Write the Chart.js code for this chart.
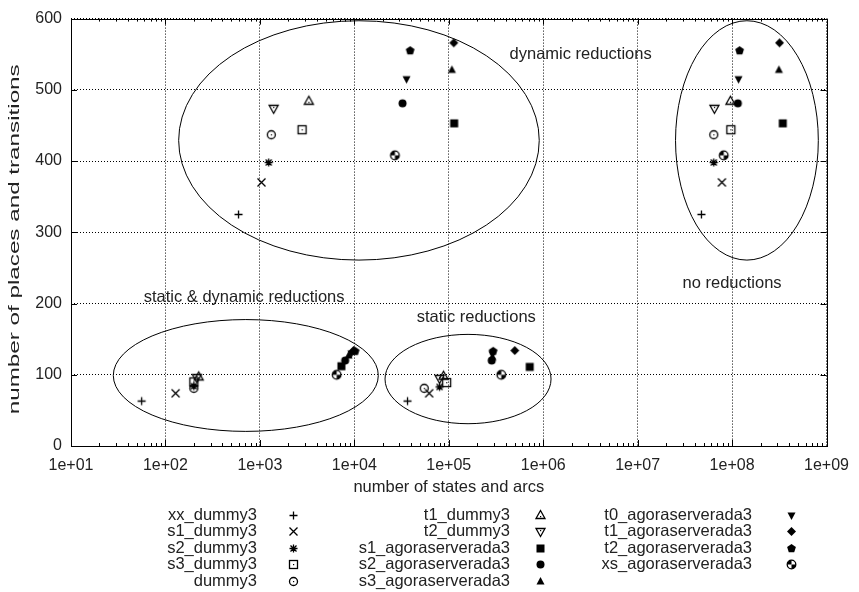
<!DOCTYPE html>
<html>
<head>
<meta charset="utf-8">
<script src="https://cdn.jsdelivr.net/npm/chart.js@4/dist/chart.umd.min.js"></script>
<style>html,body{margin:0;padding:0;background:#fff}canvas{display:block}</style>
</head>
<body>
<canvas id="c" width="859" height="592"></canvas>
<script>
// ---------- data (x = number of states and arcs, y = number of places and transitions)
const seriesNames = ['xx_dummy3','s1_dummy3','s2_dummy3','s3_dummy3','dummy3',
  't1_dummy3','t2_dummy3','s1_agoraserverada3','s2_agoraserverada3','s3_agoraserverada3',
  't0_agoraserverada3','t1_agoraserverada3','t2_agoraserverada3','xs_agoraserverada3'];

const xx_dummy3          = [[594, 325], [4.73e7, 325], [56, 63],    [36600, 63]];
const s1_dummy3          = [[1040, 370], [7.8e7, 370], [128, 74],   [62000, 74]];
const s2_dummy3          = [[1240, 398], [6.4e7, 398], [200, 84],   [80000, 83]];
const s3_dummy3          = [[2800, 444], [9.7e7, 444], [200, 90],   [95000, 89]];
const dummy3             = [[1320, 437], [6.4e7, 437], [200, 81],   [55000, 81]];
const t1_dummy3          = [[3300, 484], [9.6e7, 484], [225, 97],   [88000, 98]];
const t2_dummy3          = [[1400, 474], [6.5e7, 474], [215, 96],   [80000, 95]];
const s1_agoraserverada3 = [[114000, 453], [3.44e8, 453], [7300, 112],  [720000, 111]];
const s2_agoraserverada3 = [[32400, 481],  [1.15e8, 481], [8000, 120],  [285000, 120]];
const s3_agoraserverada3 = [[108000, 528], [3.13e8, 528], [8700, 127],  [290000, 125]];
const t0_agoraserverada3 = [[35700, 515],  [1.17e8, 515], [9300, 130],  [290000, 129]];
const t1_agoraserverada3 = [[113000, 566], [3.18e8, 566], [9800, 134],  [500000, 134]];
const t2_agoraserverada3 = [[39000, 555],  [1.2e8, 555],  [10200, 133], [295000, 133]];
const xs_agoraserverada3 = [[26900, 408],  [8.15e7, 408], [6500, 100],  [360000, 100]];

const seriesData = [xx_dummy3, s1_dummy3, s2_dummy3, s3_dummy3, dummy3, t1_dummy3, t2_dummy3,
  s1_agoraserverada3, s2_agoraserverada3, s3_agoraserverada3, t0_agoraserverada3,
  t1_agoraserverada3, t2_agoraserverada3, xs_agoraserverada3];

const xTickValues = [1e1, 1e2, 1e3, 1e4, 1e5, 1e6, 1e7, 1e8, 1e9];
const xTickLabels = ['1e+01','1e+02','1e+03','1e+04','1e+05','1e+06','1e+07','1e+08','1e+09'];
const yTickValues = [0, 100, 200, 300, 400, 500, 600];
const xTitle = 'number of states and arcs';
const yTitle = 'number of places and transitions';
const regionLabels = ['dynamic reductions', 'no reductions', 'static & dynamic reductions', 'static reductions'];

// ---------- styles
const FONT = "'Liberation Sans', Arial, Helvetica, sans-serif";
const TEXT = '#222';
const symbolKinds = ['plus','cross','star','boxdot','circledot','triup','tridown',
  'box','disc','trifill','tridownfill','diamond','pentagon','xs'];

function makeSymbol(kind) {
  const c = document.createElement('canvas');
  c.width = 15; c.height = 15;
  const g = c.getContext('2d');
  g.strokeStyle = '#000'; g.fillStyle = '#000'; g.lineWidth = 1.3;
  const m = 7.5;
  const poly = pts => { g.beginPath(); pts.forEach(([a, b], i) => i ? g.lineTo(a, b) : g.moveTo(a, b)); g.closePath(); };
  switch (kind) {
    case 'plus':
      g.beginPath(); g.moveTo(3.5, m); g.lineTo(11.5, m); g.moveTo(m, 3.5); g.lineTo(m, 11.5); g.stroke(); break;
    case 'cross':
      g.beginPath(); g.moveTo(3.5, 3.5); g.lineTo(11.5, 11.5); g.moveTo(3.5, 11.5); g.lineTo(11.5, 3.5); g.stroke(); break;
    case 'star':
      g.beginPath(); g.moveTo(3.5, m); g.lineTo(11.5, m); g.moveTo(m, 3.5); g.lineTo(m, 11.5);
      g.moveTo(4.5, 4.5); g.lineTo(10.5, 10.5); g.moveTo(4.5, 10.5); g.lineTo(10.5, 4.5); g.stroke(); break;
    case 'boxdot':
      g.strokeRect(3.5, 3.5, 8, 8); g.fillRect(7, 7, 1.2, 1.2); break;
    case 'circledot':
      g.beginPath(); g.arc(m, m, 4, 0, Math.PI * 2); g.stroke(); g.fillRect(7, 7, 1.2, 1.2); break;
    case 'triup':
      poly([[m, 2.5], [12, 10.5], [3, 10.5]]); g.stroke(); g.fillRect(7, 8, 1.2, 1.2); break;
    case 'tridown':
      poly([[m, 12.5], [12, 4.5], [3, 4.5]]); g.stroke(); g.fillRect(7, 6, 1.2, 1.2); break;
    case 'box':
      g.fillRect(3.5, 3.5, 8, 8); break;
    case 'disc':
      g.beginPath(); g.arc(m, m, 4, 0, Math.PI * 2); g.fill(); break;
    case 'trifill':
      poly([[m, 3], [11.5, 10.5], [3.5, 10.5]]); g.fill(); break;
    case 'tridownfill':
      poly([[m, 12], [11.5, 4.5], [3.5, 4.5]]); g.fill(); break;
    case 'diamond':
      poly([[m, 3], [12, m], [m, 12], [3, m]]); g.fill(); break;
    case 'pentagon': {
      const p = [];
      for (let k = 0; k < 5; k++) { const a = -Math.PI / 2 + k * 2 * Math.PI / 5; p.push([m + 4.6 * Math.cos(a), m + 4.6 * Math.sin(a)]); }
      poly(p); g.fill(); break;
    }
    case 'xs':
      g.beginPath(); g.arc(m, m, 4.3, 0, Math.PI * 2); g.fillStyle = '#fff'; g.fill(); g.fillStyle = '#000';
      g.beginPath(); g.moveTo(m, m); g.arc(m, m, 4.3, Math.PI, Math.PI * 1.5); g.closePath(); g.fill();
      g.beginPath(); g.moveTo(m, m); g.arc(m, m, 4.3, 0, Math.PI * 0.5); g.closePath(); g.fill();
      g.beginPath(); g.arc(m, m, 4.3, 0, Math.PI * 2); g.lineWidth = 1.3; g.stroke(); break;
  }
  return c;
}

const datasets = seriesNames.map((name, i) => ({
  label: name,
  data: seriesData[i].map(([x, y]) => ({ x, y })),
  pointStyle: makeSymbol(symbolKinds[i]),
  pointRadius: 4,
  pointHoverRadius: 4,
  showLine: false
}));

// annotation regions in data coordinates (log10 of x, y)
const regions = [
  { cx: 4.049, rx: 1.909, cy: 429, ry: 168, lx: 6.396, ly: 549 },
  { cx: 8.157, rx: 0.756, cy: 429, ry: 168, lx: 8.0,   ly: 228 },
  { cx: 2.851, rx: 1.403, cy: 99,  ry: 78.5, lx: 2.833, ly: 208 },
  { cx: 5.204, rx: 0.879, cy: 94,  ry: 62.7, lx: 5.291, ly: 181 }
];

const decor = {
  id: 'decor',
  beforeDatasetsDraw(chart) {
    const { ctx, chartArea: a, scales: { x, y } } = chart;
    ctx.save();
    ctx.strokeStyle = '#000'; ctx.lineWidth = 1; ctx.setLineDash([]);
    ctx.beginPath();
    for (let e = 1; e <= 9; e++) {
      for (let k = 1; k <= 9; k++) {
        const v = k * Math.pow(10, e);
        if (v > 1e9) break;
        const px = Math.round(x.getPixelForValue(v)) + 0.5;
        const len = k === 1 ? 6 : 3;
        ctx.moveTo(px, a.bottom); ctx.lineTo(px, a.bottom - len);
        ctx.moveTo(px, a.top); ctx.lineTo(px, a.top + len);
      }
    }
    yTickValues.forEach(v => {
      const py = Math.round(y.getPixelForValue(v)) + 0.5;
      ctx.moveTo(a.left, py); ctx.lineTo(a.left + 6, py);
      ctx.moveTo(a.right, py); ctx.lineTo(a.right - 6, py);
    });
    ctx.stroke();
    ctx.strokeRect(Math.round(a.left) + 0.5, Math.round(a.top) + 0.5,
      Math.round(a.right - a.left), Math.round(a.bottom - a.top));
    // ellipses
    regions.forEach(r => {
      const cx = x.getPixelForValue(Math.pow(10, r.cx));
      const rx = x.getPixelForValue(Math.pow(10, r.cx + r.rx)) - cx;
      const cy = y.getPixelForValue(r.cy);
      const ry = cy - y.getPixelForValue(r.cy + r.ry);
      ctx.beginPath(); ctx.ellipse(cx, cy, rx, ry, 0, 0, Math.PI * 2); ctx.stroke();
    });
    // region labels
    ctx.font = '16.5px ' + FONT; ctx.fillStyle = TEXT; ctx.textAlign = 'center'; ctx.textBaseline = 'middle';
    regions.forEach((r, i) => {
      ctx.fillText(regionLabels[i], x.getPixelForValue(Math.pow(10, r.lx)), y.getPixelForValue(r.ly));
    });
    ctx.restore();
  },
  afterDraw(chart) {
    const { ctx, chartArea: a } = chart;
    ctx.save();
    ctx.fillStyle = TEXT;
    // y axis title (stretched along its length like the reference)
    ctx.save();
    ctx.font = '15px ' + FONT;
    ctx.translate(15, (a.top + a.bottom) / 2 + 7);
    ctx.rotate(-Math.PI / 2);
    const w = ctx.measureText(yTitle).width;
    ctx.scale(350 / w, 1);
    ctx.textAlign = 'center'; ctx.textBaseline = 'middle';
    ctx.fillText(yTitle, 0, 0);
    ctx.restore();
    // legend
    const labelRight = [257, 510, 752];
    const symX = [293, 540, 791];
    ctx.font = '16.5px ' + FONT; ctx.textAlign = 'right'; ctx.textBaseline = 'middle';
    chart.data.datasets.forEach((ds, i) => {
      const col = Math.floor(i / 5), row = i % 5;
      const ty = 515 + row * 16.6;
      ctx.fillText(ds.label, labelRight[col], ty);
      const s = ds.pointStyle;
      ctx.drawImage(s, Math.round(symX[col] - s.width / 2), Math.round(ty - s.height / 2));
    });
    ctx.restore();
  }
};

Chart.defaults.font.family = FONT;
Chart.defaults.font.size = 16;
Chart.defaults.color = TEXT;

new Chart(document.getElementById('c'), {
  type: 'scatter',
  data: { datasets },
  options: {
    responsive: false,
    animation: false,
    events: [],
    layout: { padding: { left: 0, right: 29, top: 13, bottom: 95 } },
    plugins: { legend: { display: false }, tooltip: { enabled: false } },
    scales: {
      x: {
        type: 'logarithmic',
        min: 1e1, max: 1e9,
        afterBuildTicks: s => { s.ticks = xTickValues.map(v => ({ value: v })); },
        afterFit: s => { s.height = 51; },
        ticks: {
          autoSkip: false, maxRotation: 0, padding: 10,
          callback: (v, i) => xTickLabels[i]
        },
        grid: { color: '#000', lineWidth: 1, drawTicks: false },
        border: { display: false, dash: [1, 2] },
        title: { display: true, text: xTitle, font: { size: 16.5 }, padding: { top: 0, bottom: 0 } }
      },
      y: {
        min: 0, max: 600,
        afterBuildTicks: s => { s.ticks = yTickValues.map(v => ({ value: v })); },
        afterFit: s => { s.width = 71; },
        ticks: { padding: 9 },
        grid: { color: '#000', lineWidth: 1, drawTicks: false },
        border: { display: false, dash: [1, 2] },
        title: { display: false }
      }
    }
  },
  plugins: [decor]
});
</script>
</body>
</html>
